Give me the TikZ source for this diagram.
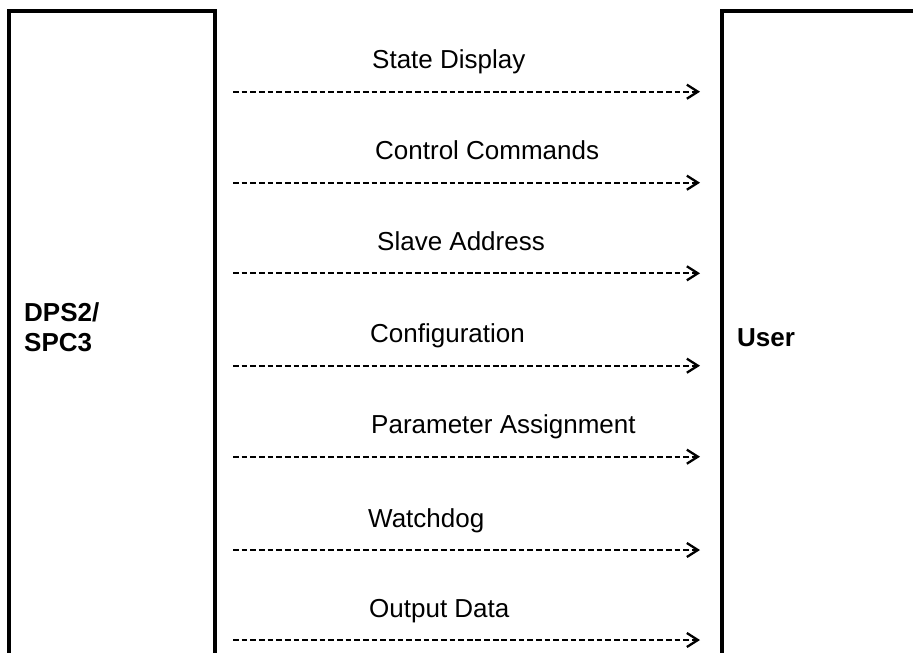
\documentclass[tikz,border=0pt]{standalone}
\usepackage{fontspec}
\setmainfont{Liberation Sans}
\usetikzlibrary{positioning,arrows.meta}

\tikzset{
	block/.style={draw, line width=4pt, rectangle, inner sep=0, outer sep=0, anchor=north west},
	flow/.style={line width=2.3pt, dash pattern=on 5.7pt off 2.96pt, -{Straight Barb[length=11pt,width=14pt]}},
	lbl/.style={inner sep=0, anchor=base west, font=\fontsize{26}{30}\selectfont},
}

\begin{document}
\begin{tikzpicture}[x=1pt, y=-1pt]
	\useasboundingbox (0,0) rectangle (913,653);
	\clip (0,0) rectangle (913,653);
	\node[block, minimum width=206pt, minimum height=720pt] at(9,11) (dps) {};
	\node[block, minimum width=260pt, minimum height=720pt] at(722,11) (user) {};
	\node[lbl, anchor=west, align=left, font=\bfseries\fontsize{26}{30}\selectfont] at(24,327) (dpsname) {DPS2/\\SPC3};
	\node[lbl, font=\bfseries\fontsize{26}{30}\selectfont] at(737,346) (username) {User};
	\foreach \n/\y/\x/\t in {1/91.7/372/State Display,2/182.7/375/Control Commands,3/273.3/377/Slave Address,4/365.7/370/Configuration,5/456.7/371/Parameter Assignment,6/550/368/Watchdog,7/640/369/Output Data} {
		\coordinate (s\n) at(233,\y);
		\coordinate (e\n) at(700,\y);
		\node[lbl] at(\x,\y - 23) (t\n) {\t};
		\draw[flow] (s\n) -- (e\n);
	};
\end{tikzpicture}
\end{document}
